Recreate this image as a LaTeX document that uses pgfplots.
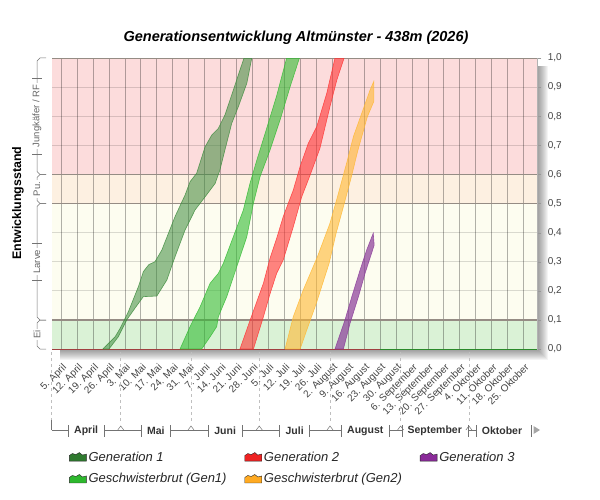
\documentclass[border=0pt]{standalone}
\usepackage{fontspec}
\setmainfont{Liberation Sans}
\usepackage{pgfplots}
\pgfplotsset{compat=1.18}
\definecolor{gA}{HTML}{3D8B3D}
\definecolor{gB}{HTML}{33BB33}
\definecolor{rA}{HTML}{FF3333}
\definecolor{oA}{HTML}{FFB833}
\definecolor{pA}{HTML}{8A3B99}
\definecolor{bEi}{HTML}{DAF2D6}
\definecolor{bLa}{HTML}{FDFDF0}
\definecolor{bPu}{HTML}{FDF0E1}
\definecolor{bJk}{HTML}{FCDCDC}
\definecolor{bandline}{HTML}{958C84}
\definecolor{txt}{HTML}{444444}
\definecolor{baseR}{HTML}{A04040}
\definecolor{baseG}{HTML}{2A8A2A}
\definecolor{lgA}{HTML}{2F7A2F}
\definecolor{lrA}{HTML}{EE2222}
\definecolor{lpA}{HTML}{8A2A99}
\definecolor{lgB}{HTML}{2DB82D}
\definecolor{loA}{HTML}{FFAA22}
\begin{document}
\begin{tikzpicture}
% soft shadow
\foreach \k in {1,...,11}{
  \fill[black,opacity=0.045] (60pt,-66pt) rectangle ([xshift=\k pt,yshift=-\k pt]537pt,-349pt);
}
\begin{axis}[
  at={(52pt,-349pt)}, anchor=south west,
  scale only axis, width=485.3pt, height=291pt,
  xmin=0, xmax=213, ymin=0, ymax=1,
  axis line style={draw=black!30},
  xtick={4,11,...,207},
  xticklabels={5. April,12. April,19. April,26. April,3. Mai,10. Mai,17. Mai,24. Mai,31. Mai,7. Juni,14. Juni,21. Juni,28. Juni,5. Juli,12. Juli,19. Juli,26. Juli,2. August,9. August,16. August,23. August,30. August,6. September,13. September,20. September,27. September,4. Oktober,11. Oktober,18. Oktober,25. Oktober},
  x tick style={draw=none},
  x tick label style={rotate=45, anchor=north east, font=\fontsize{10}{12}\selectfont, text=txt, yshift=-4pt, xshift=-3pt},
  ytick={0,0.1,0.2,0.3,0.4,0.5,0.6,0.7,0.8,0.9,1.0},
  yticklabel pos=right, ytick pos=right,
  y tick style={draw=black!40},
  major tick length=4pt, tick align=outside,
  y tick label style={font=\fontsize{10}{12}\selectfont, text=txt, xshift=3pt,
     /pgf/number format/.cd, fixed, fixed zerofill, precision=1, use comma},
  /pgf/number format/assume math mode=true,
  legend image code/.code={\draw[#1, draw=black!85, line width=0.4pt] (0pt,-4pt) -- (0pt,1.5pt) -- (3pt,3.5pt) -- (6.5pt,2.5pt) -- (10pt,4.5pt) -- (13pt,2pt) -- (17pt,3pt) -- (17pt,-4pt) -- cycle;},
  legend columns=3,
  legend style={at={(0.035,-0.345)}, anchor=north west, draw=none, fill=none, inner sep=0pt,
     font=\itshape\fontsize{13}{15}\selectfont, text=black!85, row sep=7pt,
     /tikz/every even column/.append style={column sep=16pt}},
  legend cell align=left,
]
\fill[bEi] (axis cs:0,0) rectangle (axis cs:213,0.1);
\fill[bLa] (axis cs:0,0.1) rectangle (axis cs:213,0.5);
\fill[bPu] (axis cs:0,0.5) rectangle (axis cs:213,0.6);
\fill[bJk] (axis cs:0,0.6) rectangle (axis cs:213,1.0);
\pgfplotsinvokeforeach{4,11,...,207}{
  \draw[black, opacity=0.3, line width=0.8pt] (axis cs:#1,0) -- (axis cs:#1,1);
}
\pgfplotsinvokeforeach{0.2,0.3,0.4,0.7,0.8,0.9}{
  \draw[black, opacity=0.14, line width=0.8pt] (axis cs:0,#1) -- (axis cs:213,#1);
}
\draw[bandline, line width=1.6pt] (axis cs:0,0.1) -- (axis cs:213,0.1);
\draw[bandline, line width=1.6pt] (axis cs:0,0.5) -- (axis cs:213,0.5);
\draw[bandline, line width=1.6pt] (axis cs:0,0.6) -- (axis cs:213,0.6);
\draw[bandline, line width=1.6pt] (axis cs:0,1.0) -- (axis cs:213,1.0);
\draw[baseR, line width=1pt] (axis cs:0,0) -- (axis cs:144,0);
\draw[baseG, line width=1pt] (axis cs:144,0) -- (axis cs:213,0);

% Generation 1
\addplot[forget plot, fill=gA, fill opacity=0.55, draw=gA, draw opacity=0.8, line width=0.6pt] coordinates {
(22.3,0) (27.7,0.042) (29.9,0.071) (33.5,0.128) (37.9,0.214) (40.1,0.266) (42.5,0.290) (45.2,0.300) (48.2,0.340) (54.0,0.455) (58.4,0.529) (60.6,0.575) (63.5,0.604) (67.2,0.695) (70.1,0.735) (73.0,0.758) (75.9,0.804) (79.6,0.890) (82.5,0.959) (84.3,1.0)
(87.7,1.0) (85.5,0.913) (81.8,0.833) (78.9,0.776) (75.9,0.684) (73.7,0.615) (71.6,0.569) (67.2,0.523) (62.8,0.478) (58.4,0.409) (54.0,0.317) (50.4,0.237) (46.0,0.182) (40.1,0.180) (36.4,0.140) (32.8,0.100) (29.1,0.042) (25.0,0) (22.3,0)};
% Geschwisterbrut Gen1
\addplot[forget plot, fill=gB, fill opacity=0.6, draw=gB, draw opacity=0.8, line width=0.6pt] coordinates {
(56.2,0) (60.6,0.077) (65.0,0.145) (69.4,0.226) (73.0,0.260) (75.2,0.294) (79.6,0.386) (84.0,0.478) (86.9,0.569) (89.9,0.649) (94.3,0.76) (98.6,0.87) (103.0,1.0)
(108.6,1.0) (104.5,0.901) (100.1,0.787) (95.7,0.684) (91.3,0.592) (88.4,0.501) (85.5,0.386) (81.1,0.283) (76.7,0.180) (73.0,0.111) (72.3,0.077) (69.4,0.042) (65.7,0) (56.2,0)};
% Generation 2
\addplot[forget plot, fill=rA, fill opacity=0.6, draw=rA, draw opacity=0.8, line width=0.6pt] coordinates {
(82.5,0) (87.0,0.10) (92.8,0.226) (95.7,0.312) (98.6,0.38) (101.5,0.455) (105.9,0.546) (108.9,0.627) (112.5,0.707) (116.2,0.764) (120.6,0.879) (124.2,1.0)
(128.2,1.0) (125.0,0.924) (122.0,0.833) (117.6,0.69) (113.3,0.598) (109.6,0.523) (105.9,0.420) (101.5,0.306) (98.6,0.26) (95.7,0.19) (92.8,0.111) (88.4,0) (82.5,0)};
% Geschwisterbrut Gen2
\addplot[forget plot, fill=oA, fill opacity=0.6, draw=oA, draw opacity=0.8, line width=0.6pt] coordinates {
(102.3,0) (105.9,0.111) (110.3,0.203) (116.5,0.317) (122.0,0.432) (125.3,0.523) (129.3,0.638) (132.3,0.73) (137.0,0.833) (139.6,0.89) (141.2,0.919)
(141.2,0.85) (138.4,0.798) (134.3,0.684) (131.0,0.58) (127.5,0.478) (124.7,0.398) (121.6,0.294) (116.0,0.157) (111.8,0.065) (108.9,0) (102.3,0)};
% Generation 3
\addplot[forget plot, fill=pA, fill opacity=0.7, draw=pA, draw opacity=0.8, line width=0.6pt] coordinates {
(124.2,0) (128.6,0.1) (131.6,0.18) (135.2,0.271) (138.1,0.340) (141.0,0.398)
(141.4,0.357) (137.4,0.26) (134.5,0.18) (130.8,0.088) (127.9,0) (124.2,0)};

\addlegendimage{fill=lgA}\addlegendentry{Generation 1}
\addlegendimage{fill=lrA}\addlegendentry{Generation 2}
\addlegendimage{fill=lpA}\addlegendentry{Generation 3}
\addlegendimage{fill=lgB}\addlegendentry{Geschwisterbrut (Gen1)}
\addlegendimage{fill=loA}\addlegendentry{Geschwisterbrut (Gen2)}
\end{axis}

% title
\node[font=\bfseries\itshape\fontsize{14.5}{17}\selectfont] at (296pt,-38pt) {Generationsentwicklung Altmünster - 438m (2026)};
% y label
\node[rotate=90, font=\bfseries\fontsize{12.4}{14}\selectfont] at (18pt,-203pt) {Entwicklungsstand};
% left brackets
\foreach \t/\b in {58/174.6, 174.6/203.5, 203.5/320, 320/349}{
  \draw[black!55, line width=0.5pt] (46pt,-\t pt) -- (40pt,-\t pt) -- (37pt,-\t pt-3pt) -- (37pt,-\b pt+3pt) -- (40pt,-\b pt) -- (46pt,-\b pt);
}
\foreach \y in {78,154,243,280}{ \draw[black!55, line width=0.5pt] (32pt,-\y pt) -- (42pt,-\y pt); }
\begin{scope}[every node/.style={rotate=90, font=\fontsize{9.5}{11}\selectfont, text=black!60, fill=white, inner sep=1.5pt}]
\node at (37pt,-116pt) {Jungkäfer / RF};
\node at (37pt,-189pt) {Pu.};
\node at (37pt,-261.7pt) {Larve};
\node at (37pt,-334.5pt) {Ei};
\end{scope}
% month brackets
\foreach \b in {51.7,120.7,191,259.3,330,400.6,468.9}{
  \draw[black!25, dashed, line width=0.5pt] (\b pt,-352pt) -- (\b pt,-422pt);
}
\draw[black!55, line width=0.5pt] (51.7pt,-420pt) -- (51.7pt,-430pt);
\foreach \b in {120.7,191,259.3,330,400.6,468.9}{
  \draw[black!55, line width=0.5pt] (\b pt-3pt,-430pt) -- (\b pt,-426pt) -- (\b pt+3pt,-430pt);
}
\foreach \s/\e/\m/\w in {51.7/120.7/April/24, 120.7/191/Mai/17.5, 191/259.3/Juni/21.6, 259.3/330/Juli/18, 330/400.6/August/36, 400.6/468.9/September/54}{
  \pgfmathsetmacro{\c}{(\s+\e)/2}
  \pgfmathsetmacro{\lft}{\c-\w/2-6}
  \pgfmathsetmacro{\rgt}{\c+\w/2+6}
  \draw[black!55, line width=0.5pt] (\s pt,-430pt) -- (\lft pt,-430pt);
  \draw[black!55, line width=0.5pt] (\rgt pt,-430pt) -- (\e pt,-430pt);
  \draw[black!55, line width=0.5pt] (\lft pt,-425pt) -- (\lft pt,-437pt);
  \draw[black!55, line width=0.5pt] (\rgt pt,-425pt) -- (\rgt pt,-437pt);
  \node[font=\bfseries\fontsize{10.5}{12}\selectfont, text=black!80] at (\c pt,-431pt) {\m};
}
\draw[black!55, line width=0.5pt] (468.9pt,-430pt) -- (476pt,-430pt);
\draw[black!55, line width=0.5pt] (476pt,-425pt) -- (476pt,-437pt);
\draw[black!55, line width=0.5pt] (531.7pt,-425pt) -- (531.7pt,-437pt);
\node[font=\bfseries\fontsize{10.5}{12}\selectfont, text=black!80] at (502pt,-431pt) {Oktober};
\fill[black!35] (533.5pt,-426pt) -- (540pt,-430pt) -- (533.5pt,-434pt) -- cycle;
\pgfresetboundingbox
\path[use as bounding box] (0pt,0pt) rectangle (600pt,-500pt);
\end{tikzpicture}
\end{document}
